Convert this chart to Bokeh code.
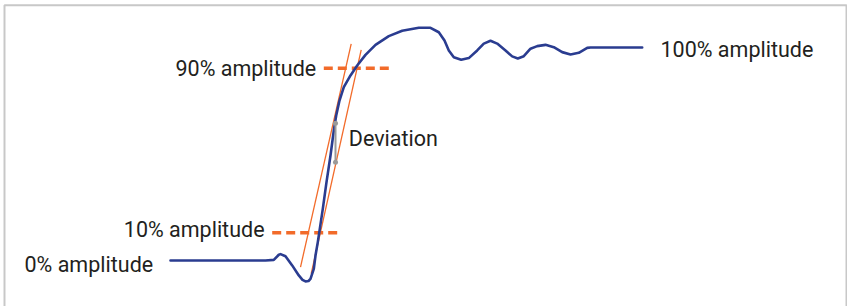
from bokeh.plotting import figure
from bokeh.models import Range1d, BoxAnnotation
from bokeh.core.properties import value
from bokeh.embed import file_html
from bokeh.resources import INLINE

# time in ns, amplitude in %
trace_t = [0.0, 9.5, 10.33, 10.83, 11.0, 11.5, 12.17, 12.83, 13.2, 13.5, 13.8, 14.0,
           14.33, 14.5, 14.73, 14.93, 15.23, 15.6, 16.0, 16.33, 16.57, 16.9, 17.33,
           18.0, 18.67, 19.5, 20.5, 21.83, 23.17, 24.83, 26.0, 26.83, 27.4, 27.83,
           28.33, 29.07, 29.83, 30.67, 31.33, 32.0, 32.67, 33.5, 34.17, 34.73, 35.33,
           36.0, 36.67, 37.5, 38.33, 39.17, 40.0, 40.83, 41.67, 42.0, 47.17]
trace_amp = [0.0, 0.0, 0.3, 2.7, 3.0, 2.0, -2.3, -7.0, -9.1, -9.8, -9.6, -8.6,
             -3.9, 2.3, 8.6, 14.8, 24.2, 36.7, 49.2, 60.9, 67.9, 74.9, 81.2,
             86.7, 91.3, 96.3, 101.0, 105.1, 107.6, 109.0, 109.0, 106.9, 103.0, 98.4,
             95.2, 94.0, 94.8, 98.4, 101.6, 102.9, 101.6, 98.4, 95.6, 94.6, 95.7,
             99.2, 100.4, 101.0, 99.9, 97.6, 96.5, 97.3, 99.6, 99.8, 99.8]

# slope guide lines (start / end points)
guide_a_t = [13.0, 18.07]
guide_a_amp = [-3.1, 101.5]
guide_b_t = [14.07, 19.07]
guide_b_amp = [-6.2, 98.7]

# threshold markers
level90_t = [15.33, 21.9]
level90_amp = [90.1, 90.1]
level10_t = [10.17, 16.77]
level10_amp = [13.0, 13.0]

# deviation bar
dev_t = [16.5, 16.5]
dev_amp = [64.3, 46.0]

# labels
label_text = ["0% amplitude", "10% amplitude", "90% amplitude", "Deviation", "100% amplitude"]
label_t = [-14.6, -4.67, 0.5, 17.83, 49.0]
label_amp = [-1.9, 14.5, 90.0, 57.0, 98.8]

# panel frame (left, right, top edges; open at the bottom)
panel_left, panel_right, panel_top, panel_bottom = -16.6, 67.6, 119.5, -40.0

BLUE = "#2a3c90"
ORANGE = "#f26b2a"
GREY = "#9a9a9a"
TEXT = "#231f20"

p = figure(width=847, height=306, output_backend="svg", toolbar_location=None,
           x_range=Range1d(-17.0, 67.7), y_range=Range1d(-21.546, 121.78),
           min_border=0, background_fill_color="white", border_fill_color="white")
p.axis.visible = False
p.grid.visible = False
p.outline_line_color = None

p.add_layout(BoxAnnotation(left=panel_left, right=panel_right, top=panel_top, bottom=panel_bottom,
                           fill_color=None, fill_alpha=0, line_color="#c8c8c8", line_width=2,
                           line_alpha=1))

p.line(level90_t, level90_amp, line_color=ORANGE, line_width=3.5, line_dash="9 5")
p.line(level10_t, level10_amp, line_color=ORANGE, line_width=3.5, line_dash="9 5")
p.line(guide_a_t, guide_a_amp, line_color=ORANGE, line_width=1.3)
p.line(guide_b_t, guide_b_amp, line_color=ORANGE, line_width=1.3)
p.line(trace_t, trace_amp, line_color=BLUE, line_width=2.6, line_join="round", line_cap="round")
p.line(dev_t, dev_amp, line_color=GREY, line_width=2)
p.scatter(dev_t, dev_amp, size=5, fill_color=GREY, line_color=None)

p.text(label_t, label_amp, text=label_text, text_font=value("Roboto"),
       text_font_size="21.5px", text_color=TEXT, text_baseline="alphabetic", text_align="left")

open("out.html", "w").write(file_html(p, INLINE))
